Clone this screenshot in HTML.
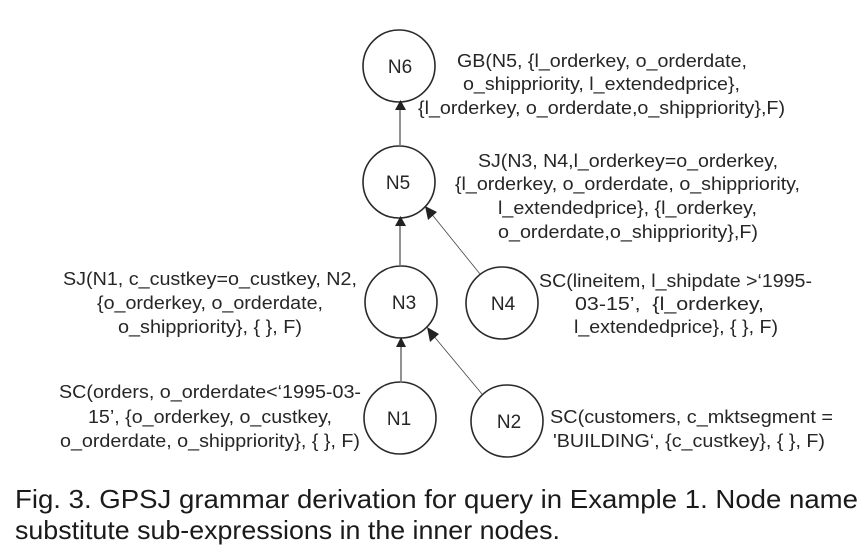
<!DOCTYPE html>
<html><head><meta charset="utf-8"><style>
html,body{margin:0;padding:0;background:#fff;width:860px;height:548px;overflow:hidden}
svg{display:block}
text{font-family:"Liberation Sans",sans-serif;fill:#262626;font-size:18.5px}
text.n{font-size:19px}
text.c{font-size:26px;fill:#1a1a1a}
</style></head><body>
<svg width="860" height="548" viewBox="0 0 860 548" xmlns="http://www.w3.org/2000/svg">
<g fill="#fff" stroke="#2a2a2a" stroke-width="1.6">
<circle cx="399" cy="66" r="36"/>
<circle cx="399" cy="182" r="36"/>
<circle cx="401" cy="302" r="36"/>
<circle cx="502" cy="303" r="36"/>
<circle cx="400" cy="418" r="36"/>
<circle cx="507" cy="421" r="36"/>
</g>
<g stroke="#777" stroke-width="1.6">
<line x1="400" y1="146" x2="400" y2="108"/>
<line x1="400" y1="266" x2="400" y2="224"/>
<line x1="401" y1="383" x2="401" y2="346"/>
</g>
<g stroke="#444" stroke-width="0.8">
<line x1="480" y1="274" x2="430" y2="212"/>
<line x1="482" y1="394" x2="432" y2="334"/>
</g>
<g fill="#222">
<polygon points="400.5,100 395,110 406,110"/>
<polygon points="400.5,216 395,226 406,226"/>
<polygon points="401,337 396,347 406,347"/>
<polygon points="425,206 437,212 428,220"/>
<polygon points="427,327 439,334 430,342"/>
</g>
<g text-anchor="middle">
<text class="n" x="400" y="73">N6</text>
<text class="n" x="398" y="189">N5</text>
<text class="n" x="404" y="309">N3</text>
<text class="n" x="503" y="310">N4</text>
<text class="n" x="399" y="425">N1</text>
<text class="n" x="509" y="428">N2</text>
</g>
<g>
<text x="457" y="67" textLength="290" lengthAdjust="spacingAndGlyphs">GB(N5, {l_orderkey, o_orderdate,</text>
<text x="463" y="90" textLength="277" lengthAdjust="spacingAndGlyphs">o_shippriority, l_extendedprice},</text>
<text x="418" y="114" textLength="367" lengthAdjust="spacingAndGlyphs">{l_orderkey, o_orderdate,o_shippriority},F)</text>
<text x="478" y="167" textLength="300" lengthAdjust="spacingAndGlyphs">SJ(N3, N4,l_orderkey=o_orderkey,</text>
<text x="455" y="190" textLength="345" lengthAdjust="spacingAndGlyphs">{l_orderkey, o_orderdate, o_shippriority,</text>
<text x="498" y="214" textLength="259" lengthAdjust="spacingAndGlyphs">l_extendedprice}, {l_orderkey,</text>
<text x="498" y="238" textLength="260" lengthAdjust="spacingAndGlyphs">o_orderdate,o_shippriority},F)</text>
<text x="539" y="287" textLength="273" lengthAdjust="spacingAndGlyphs">SC(lineitem, l_shipdate &gt;‘1995-</text>
<text x="575" y="310" textLength="189" lengthAdjust="spacingAndGlyphs" style="white-space:pre">03-15’,  {l_orderkey,</text>
<text x="574" y="333" textLength="204" lengthAdjust="spacingAndGlyphs">l_extendedprice}, { }, F)</text>
<text x="63" y="285" textLength="294" lengthAdjust="spacingAndGlyphs">SJ(N1, c_custkey=o_custkey, N2,</text>
<text x="97" y="309" textLength="226" lengthAdjust="spacingAndGlyphs">{o_orderkey, o_orderdate,</text>
<text x="118" y="333" textLength="184" lengthAdjust="spacingAndGlyphs">o_shippriority}, { }, F)</text>
<text x="59" y="398" textLength="302" lengthAdjust="spacingAndGlyphs">SC(orders, o_orderdate&lt;‘1995-03-</text>
<text x="88" y="423" textLength="244" lengthAdjust="spacingAndGlyphs">15’, {o_orderkey, o_custkey,</text>
<text x="60" y="447" textLength="300" lengthAdjust="spacingAndGlyphs">o_orderdate, o_shippriority}, { }, F)</text>
<text x="550" y="423" textLength="283" lengthAdjust="spacingAndGlyphs">SC(customers, c_mktsegment =</text>
<text x="553" y="447" textLength="272" lengthAdjust="spacingAndGlyphs">'BUILDING‘, {c_custkey}, { }, F)</text>
</g>
<text class="c" x="15" y="508" textLength="843" lengthAdjust="spacingAndGlyphs">Fig. 3. GPSJ grammar derivation for query in Example 1. Node name</text>
<text class="c" x="15" y="539" textLength="545" lengthAdjust="spacingAndGlyphs">substitute sub-expressions in the inner nodes.</text>
</svg>
</body></html>
